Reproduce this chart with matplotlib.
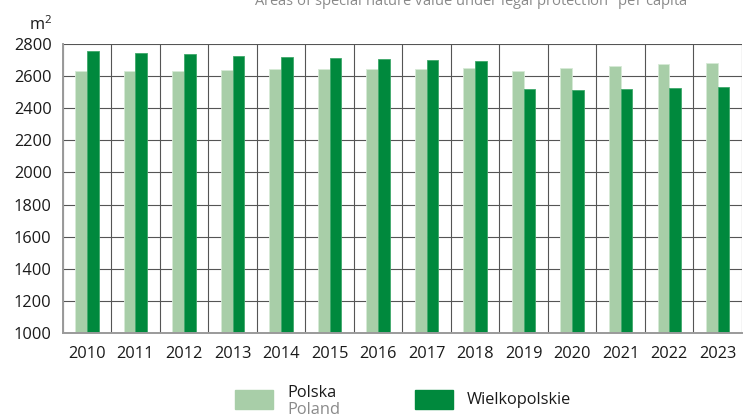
import matplotlib
matplotlib.use("Agg")
import matplotlib.pyplot as plt
import numpy as np
from matplotlib.patches import Rectangle

plt.rcParams["font.family"] = ["Open Sans", "DejaVu Sans"]
plt.rcParams["mathtext.fontset"] = "custom"
plt.rcParams["mathtext.rm"] = "Open Sans"
plt.rcParams["mathtext.it"] = "Open Sans"

years = ["2010", "2011", "2012", "2013", "2014", "2015", "2016",
         "2017", "2018", "2019", "2020", "2021", "2022", "2023"]
polska = [2631, 2633, 2633, 2640, 2642, 2646, 2644,
          2646, 2650, 2630, 2650, 2665, 2675, 2683]
wielkopolskie = [2754, 2744, 2739, 2723, 2719, 2715, 2709,
                 2700, 2697, 2521, 2513, 2519, 2527, 2531]
yticks = [1000, 1200, 1400, 1600, 1800, 2000, 2200, 2400, 2600, 2800]

light = "#a8cea8"
dark = "#00893d"
grid_c = "#555555"
title_c = "#8a8a8a"

W, H = 743, 417
fig = plt.figure(figsize=(W / 100, H / 100), dpi=100)
ax = fig.add_axes([62.7 / W, 1 - 333 / H, (742 - 62.7) / W, (333 - 44) / H])

x = np.arange(len(years))
bw = 0.241
ax.bar(x - bw / 2, [v - 1000 for v in polska], bw, bottom=1000, color=light,
       edgecolor="#d6ead6", linewidth=0.6, zorder=3)
ax.bar(x + bw / 2, [v - 1000 for v in wielkopolskie], bw, bottom=1000, color=dark,
       edgecolor="#3fa86a", linewidth=0.6, zorder=3)

ax.set_xlim(-0.5, len(years) - 0.5)
ax.set_ylim(1000, 2800)
ax.set_yticks(yticks)
ax.set_yticklabels([str(t) for t in yticks])
ax.set_xticks(x)
ax.set_xticklabels(years)
ax.set_xticks(np.arange(-0.5, len(years)), minor=True)

ax.grid(axis="y", which="major", color=grid_c, linewidth=0.8, zorder=1)
ax.grid(axis="x", which="minor", color=grid_c, linewidth=0.8, zorder=1)
ax.tick_params(axis="both", which="both", length=0, labelsize=11.8, colors="#1a1a1a")
ax.tick_params(axis="y", pad=8)
ax.tick_params(axis="x", pad=9)

for side in ["top", "right"]:
    ax.spines[side].set_visible(False)
ax.spines["left"].set_color("#9a9a9a")
ax.spines["left"].set_linewidth(1.4)
ax.spines["bottom"].set_color("#9a9a9a")
ax.spines["bottom"].set_linewidth(1.4)
ax.spines["left"].set_zorder(4)
ax.spines["bottom"].set_zorder(4)

# unit label
fig.text(52 / W, 1 - 30 / H, r"m$^2$", ha="right", va="baseline",
         fontsize=11.8, color="#1a1a1a")

# title (runs past the top edge of the canvas)
fig.text(471 / W, 1 - 7 / H,
         r"Areas of special nature value under legal protection$^{\mathrm{a}}$ per capita",
         ha="center", va="baseline", fontsize=10.6, color=title_c)

# legend
fig.patches.append(Rectangle((235 / W, 1 - 409 / H), 38 / W, 19 / H,
                             transform=fig.transFigure, color=light))
fig.patches.append(Rectangle((415 / W, 1 - 409 / H), 38 / W, 19 / H,
                             transform=fig.transFigure, color=dark))
fig.text(287 / W, 1 - 397 / H, "Polska", ha="left", va="baseline",
         fontsize=11.8, color="#1a1a1a")
fig.text(287 / W, 1 - 414 / H, "Poland", ha="left", va="baseline",
         fontsize=11.8, color="#8a8a8a")
fig.text(467 / W, 1 - 404 / H, "Wielkopolskie", ha="left", va="baseline",
         fontsize=11.8, color="#1a1a1a")

fig.savefig("out.png", dpi=100)
